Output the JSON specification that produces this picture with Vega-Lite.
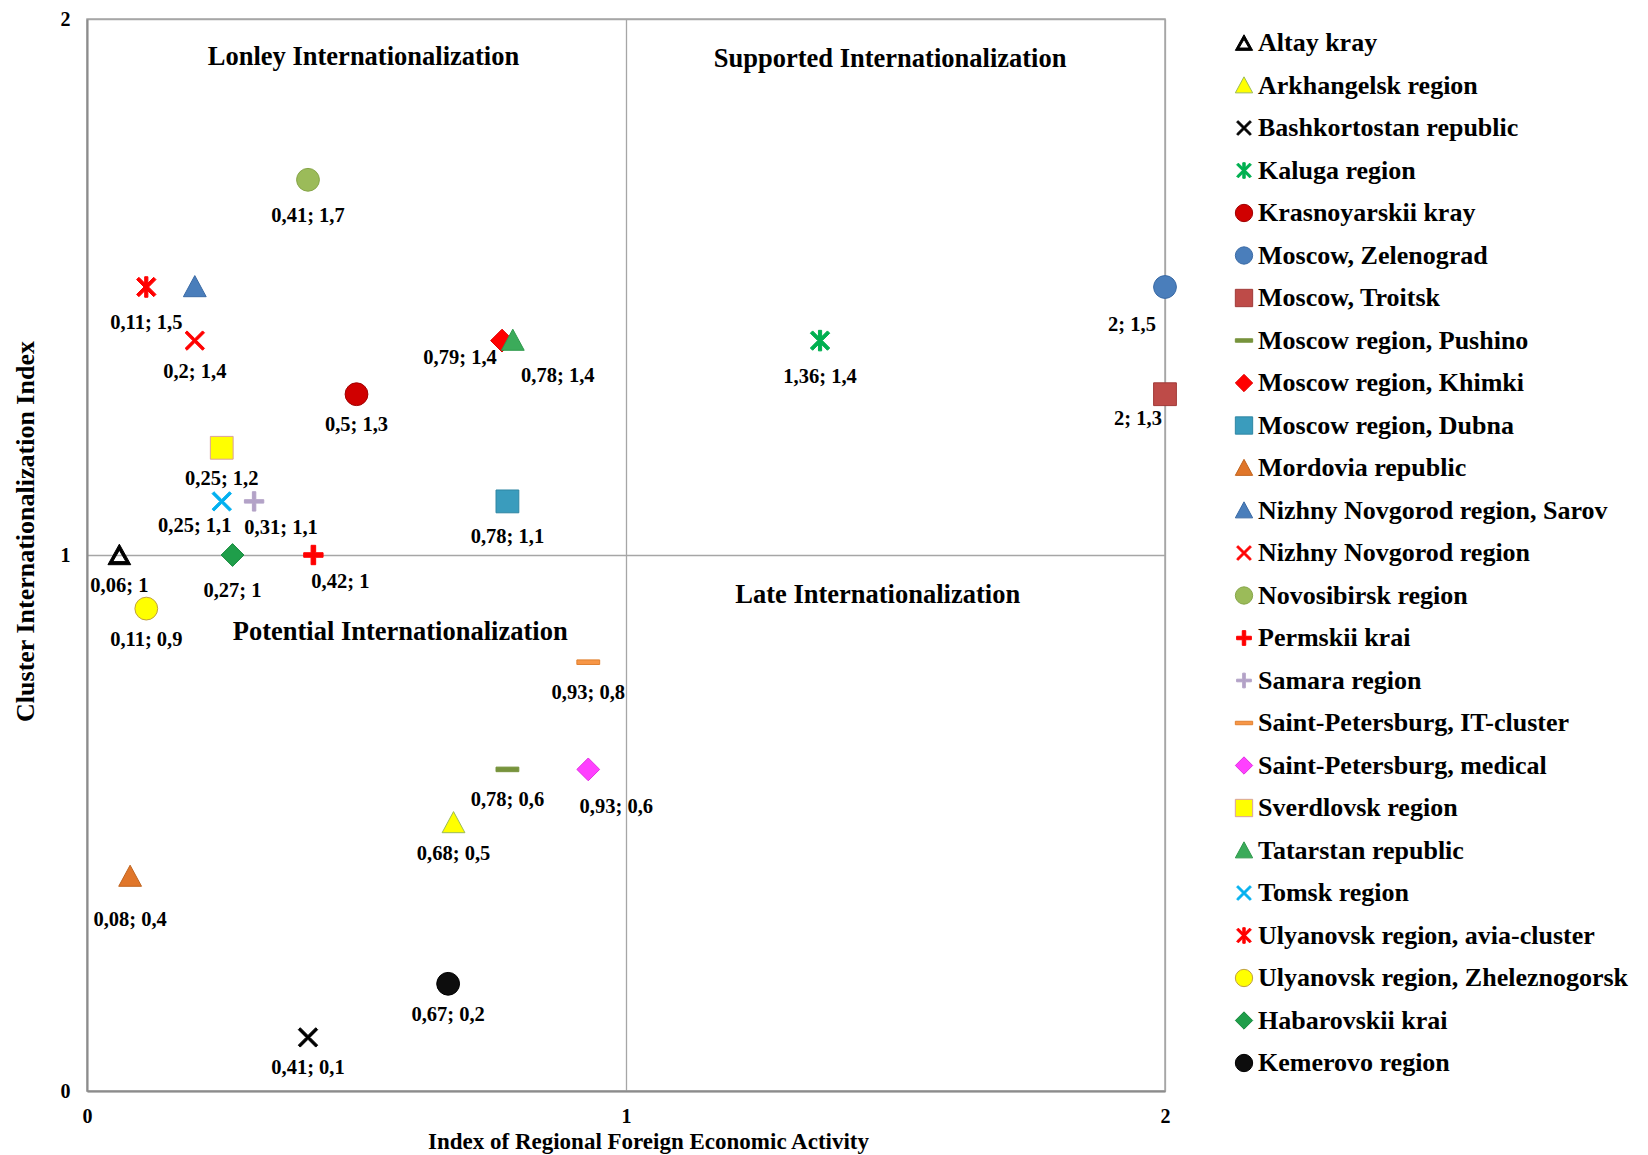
{
  "$schema": "https://vega.github.io/schema/vega-lite/v6.json",
  "width": 1078,
  "height": 1072,
  "autosize": {"type": "none"},
  "padding": {"left": 87, "top": 19, "right": 483, "bottom": 64},
  "background": "white",
  "config": {
    "view": {"stroke": "#a6a6a6", "strokeWidth": 1.5},
    "font": "Liberation Serif",
    "legend": {
      "orient": "none", "legendX": 1144, "legendY": 11,
      "labelFont": "Liberation Serif", "labelFontWeight": "bold", "labelFontSize": 26, "labelColor": "black",
      "labelLimit": 0, "symbolSize": 300, "rowPadding": 16.5, "labelOffset": 1, "symbolStrokeWidth": 1, "padding": 0
    }
  },
  "datasets": {
    "pts": [
      {"name": "Altay kray", "x": 0.06, "y": 1.0, "label": "0,06; 1"},
      {"name": "Arkhangelsk region", "x": 0.68, "y": 0.5, "label": "0,68; 0,5"},
      {"name": "Bashkortostan republic", "x": 0.41, "y": 0.1, "label": "0,41; 0,1"},
      {"name": "Kaluga region", "x": 1.36, "y": 1.4, "label": "1,36; 1,4"},
      {"name": "Krasnoyarskii kray", "x": 0.5, "y": 1.3, "label": "0,5; 1,3"},
      {"name": "Moscow, Zelenograd", "x": 2.0, "y": 1.5, "label": "2; 1,5"},
      {"name": "Moscow, Troitsk", "x": 2.0, "y": 1.3, "label": "2; 1,3"},
      {"name": "Moscow region, Pushino", "x": 0.78, "y": 0.6, "label": "0,78; 0,6"},
      {"name": "Moscow region, Khimki", "x": 0.77, "y": 1.4, "label": "0,79; 1,4"},
      {"name": "Moscow region, Dubna", "x": 0.78, "y": 1.1, "label": "0,78; 1,1"},
      {"name": "Mordovia republic", "x": 0.08, "y": 0.4, "label": "0,08; 0,4"},
      {"name": "Nizhny Novgorod region, Sarov", "x": 0.2, "y": 1.5, "label": ""},
      {"name": "Nizhny Novgorod region", "x": 0.2, "y": 1.4, "label": "0,2; 1,4"},
      {"name": "Novosibirsk region", "x": 0.41, "y": 1.7, "label": "0,41; 1,7"},
      {"name": "Permskii krai", "x": 0.42, "y": 1.0, "label": "0,42; 1"},
      {"name": "Samara region", "x": 0.31, "y": 1.1, "label": "0,31; 1,1"},
      {"name": "Saint-Petersburg, IT-cluster", "x": 0.93, "y": 0.8, "label": "0,93; 0,8"},
      {"name": "Saint-Petersburg, medical", "x": 0.93, "y": 0.6, "label": "0,93; 0,6"},
      {"name": "Sverdlovsk region", "x": 0.25, "y": 1.2, "label": "0,25; 1,2"},
      {"name": "Tatarstan republic", "x": 0.79, "y": 1.4, "label": "0,78; 1,4"},
      {"name": "Tomsk region", "x": 0.25, "y": 1.1, "label": "0,25; 1,1"},
      {"name": "Ulyanovsk region, avia-cluster", "x": 0.11, "y": 1.5, "label": "0,11; 1,5"},
      {"name": "Ulyanovsk region, Zheleznogorsk", "x": 0.11, "y": 0.9, "label": "0,11; 0,9"},
      {"name": "Habarovskii krai", "x": 0.27, "y": 1.0, "label": "0,27; 1"},
      {"name": "Kemerovo region", "x": 0.67, "y": 0.2, "label": "0,67; 0,2"}
    ],
    "quad": [
      {"q": "Lonley Internationalization", "x": 0.513, "y": 1.929},
      {"q": "Supported Internationalization", "x": 1.49, "y": 1.925},
      {"q": "Late Internationalization", "x": 1.467, "y": 0.925},
      {"q": "Potential Internationalization", "x": 0.581, "y": 0.857}
    ]
  },
  "encoding": {
    "x": {
      "field": "x", "type": "quantitative",
      "scale": {"domain": [0, 2], "nice": false, "zero": false},
      "axis": {
        "values": [0, 1, 2], "tickCount": 10, "labelExpr": "'' + datum.value", "labelOverlap": false, "grid": true, "gridColor": "#a6a6a6", "gridWidth": 1.3,
        "domainColor": "#8c8c8c", "domainWidth": 2, "ticks": false,
        "labelFont": "Liberation Serif", "labelFontSize": 20, "labelFontWeight": "bold", "labelColor": "black",
        "labelPadding": 15, "labelFlush": false,
        "title": "Index of Regional Foreign Economic Activity",
        "titleFont": "Liberation Serif", "titleFontSize": 23, "titleFontWeight": "bold", "titleColor": "black",
        "titlePadding": 4, "titleX": 561
      }
    },
    "y": {
      "field": "y", "type": "quantitative",
      "scale": {"domain": [0, 2], "nice": false, "zero": false},
      "axis": {
        "values": [0, 1, 2], "tickCount": 10, "labelExpr": "'' + datum.value", "labelOverlap": false, "grid": true, "gridColor": "#a6a6a6", "gridWidth": 1.3,
        "domainColor": "#8c8c8c", "domainWidth": 2, "ticks": false,
        "labelFont": "Liberation Serif", "labelFontSize": 20, "labelFontWeight": "bold", "labelColor": "black",
        "labelPadding": 17, "labelFlush": false,
        "title": "Cluster Internationalization  Index",
        "titleFont": "Liberation Serif", "titleFontSize": 26, "titleFontWeight": "bold", "titleColor": "black",
        "titlePadding": 22, "titleY": 512
      }
    }
  },
  "layer": [
    {
      "data": {"name": "quad"},
      "mark": {"type": "text", "font": "Liberation Serif", "fontSize": 26.5, "fontWeight": "bold", "color": "black"},
      "encoding": {"text": {"field": "q"}}
    },
    {
      "data": {"name": "pts"},
      "mark": {"type": "point", "filled": true, "size": 520, "opacity": 1, "strokeWidth": 1},
      "encoding": {
        "shape": {
          "field": "name", "type": "nominal", "title": null,
          "scale": {
            "domain": ["Altay kray", "Arkhangelsk region", "Bashkortostan republic", "Kaluga region", "Krasnoyarskii kray", "Moscow, Zelenograd", "Moscow, Troitsk", "Moscow region, Pushino", "Moscow region, Khimki", "Moscow region, Dubna", "Mordovia republic", "Nizhny Novgorod region, Sarov", "Nizhny Novgorod region", "Novosibirsk region", "Permskii krai", "Samara region", "Saint-Petersburg, IT-cluster", "Saint-Petersburg, medical", "Sverdlovsk region", "Tatarstan republic", "Tomsk region", "Ulyanovsk region, avia-cluster", "Ulyanovsk region, Zheleznogorsk", "Habarovskii krai", "Kemerovo region"],
            "range": [
              "M0,-0.95L1,0.85L-1,0.85ZM0,-0.42L-0.58,0.58L0.58,0.58Z",
              "M0,-1L1,0.85L-1,0.85Z",
              "M-0.85,-0.68L-0.68,-0.85L0,-0.17L0.68,-0.85L0.85,-0.68L0.17,0L0.85,0.68L0.68,0.85L0,0.17L-0.68,0.85L-0.85,0.68L-0.17,0Z",
              "M-0.85,-0.65L-0.65,-0.85L0,-0.2L0.65,-0.85L0.85,-0.65L0.2,0L0.85,0.65L0.65,0.85L0,0.2L-0.65,0.85L-0.85,0.65L-0.2,0ZM-0.14,-0.9L0.14,-0.9L0.14,0.9L-0.14,0.9Z",
              "circle",
              "circle",
              "square",
              "M-1,-0.2L1,-0.2L1,0.2L-1,0.2Z",
              "diamond",
              "square",
              "M0,-1L1,0.85L-1,0.85Z",
              "M0,-1L1,0.85L-1,0.85Z",
              "M-0.85,-0.68L-0.68,-0.85L0,-0.17L0.68,-0.85L0.85,-0.68L0.17,0L0.85,0.68L0.68,0.85L0,0.17L-0.68,0.85L-0.85,0.68L-0.17,0Z",
              "circle",
              "M-0.2,-0.85L0.2,-0.85L0.2,-0.2L0.85,-0.2L0.85,0.2L0.2,0.2L0.2,0.85L-0.2,0.85L-0.2,0.2L-0.85,0.2L-0.85,-0.2L-0.2,-0.2Z",
              "M-0.15,-0.85L0.15,-0.85L0.15,-0.15L0.85,-0.15L0.85,0.15L0.15,0.15L0.15,0.85L-0.15,0.85L-0.15,0.15L-0.85,0.15L-0.85,-0.15L-0.15,-0.15Z",
              "M-1,-0.2L1,-0.2L1,0.2L-1,0.2Z",
              "diamond",
              "square",
              "M0,-1L1,0.85L-1,0.85Z",
              "M-0.85,-0.68L-0.68,-0.85L0,-0.17L0.68,-0.85L0.85,-0.68L0.17,0L0.85,0.68L0.68,0.85L0,0.17L-0.68,0.85L-0.85,0.68L-0.17,0Z",
              "M-0.85,-0.65L-0.65,-0.85L0,-0.2L0.65,-0.85L0.85,-0.65L0.2,0L0.85,0.65L0.65,0.85L0,0.2L-0.65,0.85L-0.85,0.65L-0.2,0ZM-0.14,-0.9L0.14,-0.9L0.14,0.9L-0.14,0.9Z",
              "circle",
              "diamond",
              "circle"
            ]
          }
        },
        "fill": {
          "field": "name", "type": "nominal", "title": null,
          "scale": {
            "domain": ["Altay kray", "Arkhangelsk region", "Bashkortostan republic", "Kaluga region", "Krasnoyarskii kray", "Moscow, Zelenograd", "Moscow, Troitsk", "Moscow region, Pushino", "Moscow region, Khimki", "Moscow region, Dubna", "Mordovia republic", "Nizhny Novgorod region, Sarov", "Nizhny Novgorod region", "Novosibirsk region", "Permskii krai", "Samara region", "Saint-Petersburg, IT-cluster", "Saint-Petersburg, medical", "Sverdlovsk region", "Tatarstan republic", "Tomsk region", "Ulyanovsk region, avia-cluster", "Ulyanovsk region, Zheleznogorsk", "Habarovskii krai", "Kemerovo region"],
            "range": ["#000000", "#ffff00", "#000000", "#00b050", "#d00000", "#4a7ebb", "#be4b48", "#77933c", "#ff0000", "#3a9cbd", "#e0762a", "#4a7ebb", "#ff0000", "#9bbb59", "#ff0000", "#b3a2c7", "#f79646", "#ff40ff", "#ffff00", "#3bab5a", "#00b0f0", "#ff0000", "#ffff00", "#1f9e4a", "#0d0d0d"]
          }
        },
        "stroke": {
          "field": "name", "type": "nominal", "title": null,
          "scale": {
            "domain": ["Altay kray", "Arkhangelsk region", "Bashkortostan republic", "Kaluga region", "Krasnoyarskii kray", "Moscow, Zelenograd", "Moscow, Troitsk", "Moscow region, Pushino", "Moscow region, Khimki", "Moscow region, Dubna", "Mordovia republic", "Nizhny Novgorod region, Sarov", "Nizhny Novgorod region", "Novosibirsk region", "Permskii krai", "Samara region", "Saint-Petersburg, IT-cluster", "Saint-Petersburg, medical", "Sverdlovsk region", "Tatarstan republic", "Tomsk region", "Ulyanovsk region, avia-cluster", "Ulyanovsk region, Zheleznogorsk", "Habarovskii krai", "Kemerovo region"],
            "range": ["#000000", "#9bbb59", "#000000", "#00b050", "#a00000", "#3a6aa5", "#a03a38", "#77933c", "#e00000", "#2f86a3", "#c0641f", "#3a6aa5", "#ff0000", "#86a548", "#ff0000", "#b3a2c7", "#e08030", "#e030e0", "#d9a0a0", "#2f9a4c", "#00b0f0", "#ff0000", "#c0a040", "#188a3e", "#000000"]
          }
        }
      }
    },
    {
      "data": {"name": "pts"},
      "transform": [{"filter": {"field": "name", "oneOf": ["Altay kray", "Arkhangelsk region", "Bashkortostan republic", "Krasnoyarskii kray", "Moscow region, Pushino", "Nizhny Novgorod region", "Saint-Petersburg, IT-cluster", "Sverdlovsk region", "Ulyanovsk region, Zheleznogorsk", "Kemerovo region"]}}],
      "mark": {"type": "text", "font": "Liberation Serif", "fontSize": 20.5, "fontWeight": "bold", "color": "black", "dy": 31},
      "encoding": {"text": {"field": "label"}}
    },
    {
      "data": {"name": "pts"},
      "transform": [{"filter": {"field": "name", "oneOf": ["Kaluga region", "Moscow region, Dubna", "Novosibirsk region", "Ulyanovsk region, avia-cluster", "Habarovskii krai"]}}],
      "mark": {"type": "text", "font": "Liberation Serif", "fontSize": 20.5, "fontWeight": "bold", "color": "black", "dy": 36},
      "encoding": {"text": {"field": "label"}}
    },
    {
      "data": {"name": "pts"},
      "transform": [{"filter": {"field": "name", "oneOf": ["Mordovia republic"]}}],
      "mark": {"type": "text", "font": "Liberation Serif", "fontSize": 20.5, "fontWeight": "bold", "color": "black", "dy": 43},
      "encoding": {"text": {"field": "label"}}
    },
    {
      "data": {"name": "pts"},
      "transform": [{"filter": {"field": "name", "oneOf": ["Moscow region, Khimki"]}}],
      "mark": {"type": "text", "font": "Liberation Serif", "fontSize": 20.5, "fontWeight": "bold", "color": "black", "dx": -42, "dy": 17},
      "encoding": {"text": {"field": "label"}}
    },
    {
      "data": {"name": "pts"},
      "transform": [{"filter": {"field": "name", "oneOf": ["Tomsk region", "Moscow, Troitsk"]}}],
      "mark": {"type": "text", "font": "Liberation Serif", "fontSize": 20.5, "fontWeight": "bold", "color": "black", "dx": -27, "dy": 25},
      "encoding": {"text": {"field": "label"}}
    },
    {
      "data": {"name": "pts"},
      "transform": [{"filter": {"field": "name", "oneOf": ["Moscow, Zelenograd"]}}],
      "mark": {"type": "text", "font": "Liberation Serif", "fontSize": 20.5, "fontWeight": "bold", "color": "black", "dx": -33, "dy": 38},
      "encoding": {"text": {"field": "label"}}
    },
    {
      "data": {"name": "pts"},
      "transform": [{"filter": {"field": "name", "oneOf": ["Permskii krai", "Samara region"]}}],
      "mark": {"type": "text", "font": "Liberation Serif", "fontSize": 20.5, "fontWeight": "bold", "color": "black", "dx": 27, "dy": 27},
      "encoding": {"text": {"field": "label"}}
    },
    {
      "data": {"name": "pts"},
      "transform": [{"filter": {"field": "name", "oneOf": ["Saint-Petersburg, medical"]}}],
      "mark": {"type": "text", "font": "Liberation Serif", "fontSize": 20.5, "fontWeight": "bold", "color": "black", "dx": 28, "dy": 38},
      "encoding": {"text": {"field": "label"}}
    },
    {
      "data": {"name": "pts"},
      "transform": [{"filter": {"field": "name", "oneOf": ["Tatarstan republic"]}}],
      "mark": {"type": "text", "font": "Liberation Serif", "fontSize": 20.5, "fontWeight": "bold", "color": "black", "dx": 45, "dy": 35},
      "encoding": {"text": {"field": "label"}}
    }
  ]
}
